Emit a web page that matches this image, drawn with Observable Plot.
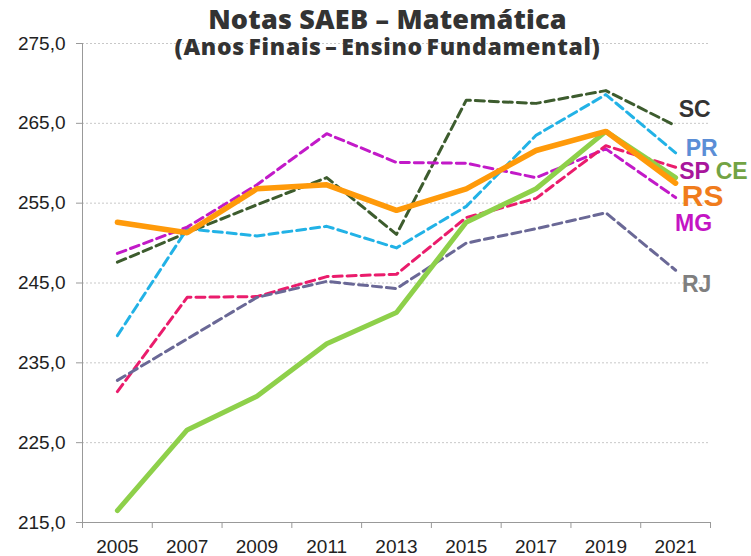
<!DOCTYPE html>
<html>
<head>
<meta charset="utf-8">
<script src="https://cdn.jsdelivr.net/npm/d3@7"></script>
<script src="https://cdn.jsdelivr.net/npm/@observablehq/plot@0.6"></script>
<style>
  html, body { margin: 0; padding: 0; background: #fff; }
  #wrap { position: relative; width: 751px; height: 556px; overflow: hidden; }
  #title, #subtitle { position: absolute; left: 0; width: 775px; text-align: center; color: #333;
    font-family: "Open Sans", sans-serif; font-weight: 800; white-space: nowrap; line-height: 1; }
  #title { top: 5px; font-size: 27px; letter-spacing: 0.2px; }
  #subtitle { top: 35px; font-size: 23px; letter-spacing: 0.7px; word-spacing: -3px; }
  #chart { position: absolute; left: 0; top: 0; }
</style>
</head>
<body>
<div id="wrap">
  <div id="chart"></div>
  <div id="title">Notas SAEB – Matemática</div>
  <div id="subtitle">(Anos Finais – Ensino Fundamental)</div>
</div>
<script>
// ---- data ----
const years = [2005, 2007, 2009, 2011, 2013, 2015, 2017, 2019, 2021];
const yearLabels = ["2005", "2007", "2009", "2011", "2013", "2015", "2017", "2019", "2021"];
const yTicks = [215, 225, 235, 245, 255, 265, 275];
const yTickLabels = ["215,0", "225,0", "235,0", "245,0", "255,0", "265,0", "275,0"];

const SC = [247.6, 251.3, 254.8, 258.2, 251.1, 267.9, 267.5, 269.1, 264.7];
const PR = [238.4, 251.8, 250.9, 252.1, 249.4, 254.6, 263.5, 268.6, 261.3];
const MG = [248.7, 252.0, 257.3, 263.7, 260.1, 260.0, 258.2, 261.8, 255.7];
const SP = [231.4, 243.2, 243.3, 245.8, 246.1, 253.2, 255.6, 262.2, 259.5];
const RJ = [232.8, 238.0, 243.2, 245.2, 244.3, 250.0, 251.8, 253.8, 246.6];
const CE = [216.5, 226.6, 230.8, 237.4, 241.3, 252.6, 256.8, 264.0, 258.2];
const RS = [252.6, 251.3, 256.8, 257.3, 254.1, 256.8, 261.6, 264.0, 257.5];

const series = {SC, PR, MG, SP, RJ, CE, RS};
const names = ["SC", "PR", "MG", "SP", "RJ", "CE", "RS"];
const rows = names.flatMap(uf => years.map((year, i) => ({uf, year, value: series[uf][i]})));
const lastRows = names.map(uf => ({uf, year: years[years.length - 1], value: series[uf][years.length - 1]}));

// ---- styles ----
const lineColors = {SC: "#3d5c2e", PR: "#22b2e6", MG: "#c21ac8", SP: "#ea1c6c", RJ: "#6a6896", CE: "#8ed04a", RS: "#ff9a0a"};
const labelStyle = {
  SC: {fill: "#333333", size: 23, dx: 19, dy: -16},
  PR: {fill: "#5b8ed6", size: 23, dx: 26, dy: -4},
  SP: {fill: "#a8169c", size: 23, dx: 19, dy: 4},
  CE: {fill: "#72a344", size: 23, dx: 56, dy: -6},
  RS: {fill: "#f07c1c", size: 30, dx: 27, dy: 13},
  MG: {fill: "#c414c4", size: 23, dx: 18, dy: 26},
  RJ: {fill: "#7f7f7f", size: 23, dx: 21, dy: 14}
};
const dashed = ["SC", "PR", "MG", "SP", "RJ"];
const boundaries = d3.range(years[0] - 1, years[years.length - 1] + 2, 2);

const plot = Plot.plot({
  width: 751,
  height: 556,
  marginTop: 43,
  marginBottom: 34,
  marginLeft: 82,
  marginRight: 41,
  style: {fontFamily: "'Liberation Sans', Arial, sans-serif", color: "#222", background: "white"},
  x: {domain: [years[0] - 1, years[years.length - 1] + 1]},
  y: {domain: [215, 275]},
  color: {domain: names, range: names.map(n => lineColors[n])},
  marks: [
    Plot.gridY(yTicks.slice(1), {stroke: "#c8c8c8", strokeOpacity: 1, strokeDasharray: "2,2"}),
    Plot.axisY(yTicks, {tickSize: 6, tickPadding: 11, tickFormat: d => yTickLabels[yTicks.indexOf(d)], fontSize: 19, stroke: "#999", fill: "#222", label: null}),
    Plot.axisX(boundaries, {tickSize: 6, tickFormat: () => "", stroke: "#999", label: null}),
    Plot.axisX(years, {tickSize: 0, tickPadding: 17, tickFormat: d => yearLabels[years.indexOf(d)], fontSize: 19, fill: "#222", label: null}),
    Plot.ruleX([years[0] - 1], {stroke: "#999", strokeWidth: 1}),
    Plot.ruleY([215], {stroke: "#999", strokeWidth: 1}),
    Plot.line(rows.filter(d => dashed.includes(d.uf)), {x: "year", y: "value", z: "uf", stroke: "uf", strokeWidth: 3, strokeDasharray: "9,5"}),
    Plot.line(rows.filter(d => d.uf === "CE"), {x: "year", y: "value", stroke: "uf", strokeWidth: 5, strokeLinejoin: "miter"}),
    Plot.line(rows.filter(d => d.uf === "RS"), {x: "year", y: "value", stroke: "uf", strokeWidth: 5.5, strokeLinejoin: "miter"}),
    ...names.map(uf => Plot.text(lastRows.filter(d => d.uf === uf), {
      x: "year", y: "value", text: "uf",
      dx: labelStyle[uf].dx, dy: labelStyle[uf].dy,
      fill: labelStyle[uf].fill, fontSize: labelStyle[uf].size, fontWeight: "bold",
      fontFamily: "'Liberation Sans', Arial, sans-serif"
    }))
  ]
});
document.getElementById("chart").appendChild(plot);
</script>
</body>
</html>
